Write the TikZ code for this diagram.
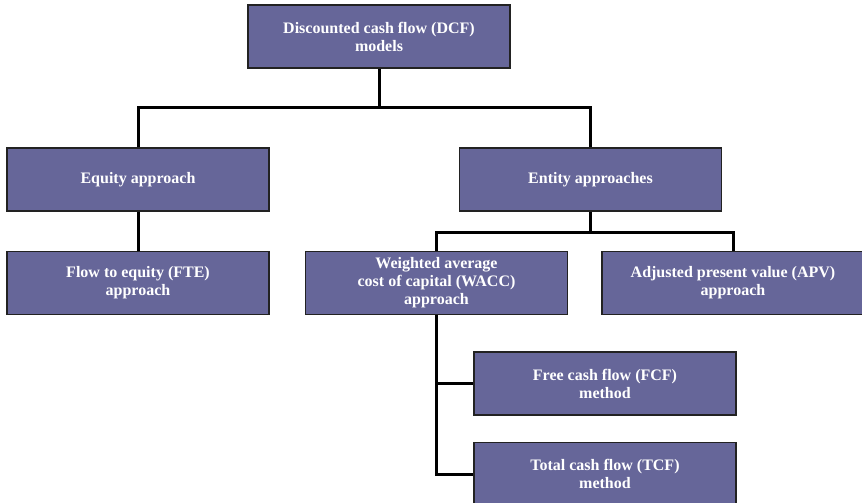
\documentclass[tikz,border=0pt]{standalone}
\usepackage{fontspec}
\setmainfont{Liberation Serif}
\usetikzlibrary{positioning}
\definecolor{boxblue}{HTML}{666699}
\definecolor{boxline}{HTML}{222222}
\tikzset{
  model/.style={rectangle,draw=boxline,line width=1.3pt,fill=boxblue,text=white,align=center,
    minimum width=262pt,minimum height=63pt,inner sep=2pt,font=\fontsize{16}{18}\selectfont\bfseries},
  link/.style={line width=3pt,black}
}
\begin{document}
\begin{tikzpicture}[x=1pt,y=-1pt]
    \useasboundingbox (0,0) rectangle (862,503);
    \node[model] (dcf) at (379,36.5) {Discounted cash flow (DCF)\\models};
    \node[model] (equity) at (138,179.5) {Equity approach};
    \node[model] (entity) at (590.5,179.5) {Entity approaches};
    \node[model] (fte) at (138,283) {Flow to equity (FTE)\\approach};
    \node[model] (wacc) at (436.5,283) {Weighted average\\cost of capital (WACC)\\approach};
    \node[model] (apv) at (733,283) {Adjusted present value (APV)\\approach};
    \node[model] (fcf) at (605,383.5) {Free cash flow (FCF)\\method};
    \node[model] (tcf) at (605,474) {Total cash flow (TCF)\\method};
    \coordinate (split1) at (379,107);
    \coordinate (split2) at (590.5,232);
    \draw[link] (dcf.south) -- (split1);
    \draw[link] (equity.north) |- (split1) -| (entity.north);
    \draw[link] (equity.south) -- (fte.north);
    \draw[link] (entity.south) -- (split2);
    \draw[link] (wacc.north) |- (split2) -| (apv.north);
    \draw[link] (wacc.south) |- (fcf.west);
    \draw[link] (wacc.south) |- (tcf.west);
  \end{tikzpicture}
\end{document}
